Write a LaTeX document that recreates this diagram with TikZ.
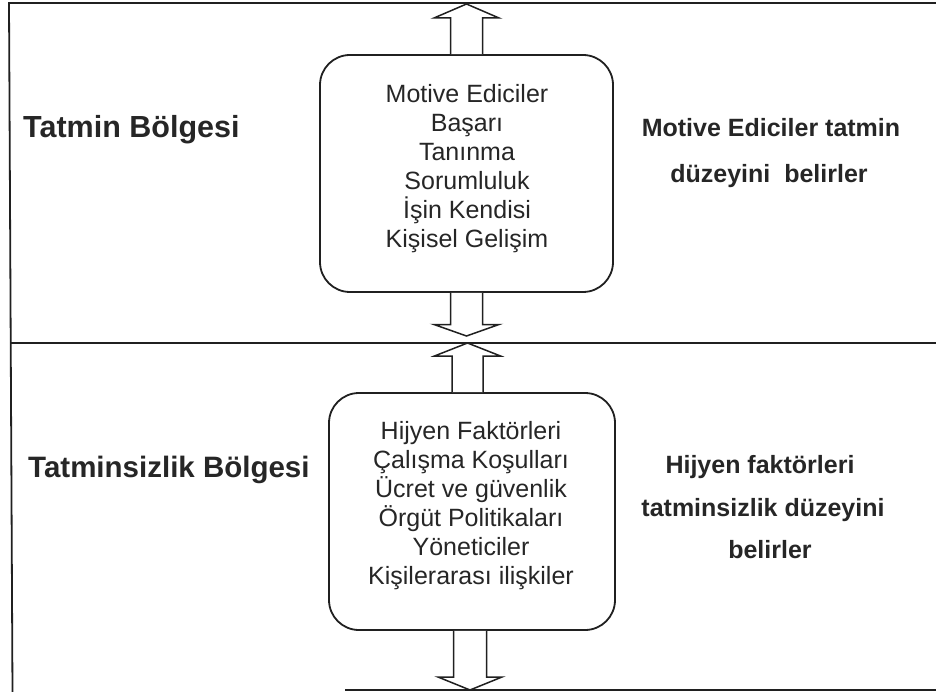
\documentclass[tikz,border=0pt]{standalone}
\usepackage{fontspec}
\setmainfont{Liberation Sans}
\usetikzlibrary{calc}
\definecolor{ink}{HTML}{202020}
\definecolor{txt}{HTML}{262626}

% vertical block arrows: #1 base, #2 tip, #3 shaft half width, #4 head half width, #5 head length
\newcommand{\blockup}[5]{%
  \draw[blockarrow] let \p1=(#1), \p2=(#2) in
    (\x1-#3pt,\y1) -- (\x1-#3pt,\y2-#5pt) -- (\x1-#4pt,\y2-#5pt) -- (\x1,\y2)
    -- (\x1+#4pt,\y2-#5pt) -- (\x1+#3pt,\y2-#5pt) -- (\x1+#3pt,\y1);}
\newcommand{\blockdown}[5]{%
  \draw[blockarrow] let \p1=(#1), \p2=(#2) in
    (\x1-#3pt,\y1) -- (\x1-#3pt,\y2+#5pt) -- (\x1-#4pt,\y2+#5pt) -- (\x1,\y2)
    -- (\x1+#4pt,\y2+#5pt) -- (\x1+#3pt,\y2+#5pt) -- (\x1+#3pt,\y1);}

\begin{document}
\begin{tikzpicture}[x=1pt,y=-1pt,
  frame/.style={draw=ink,line width=1.8pt},
  factorbox/.style={draw=ink,line width=1.8pt,rounded corners=30pt,
    minimum height=237pt,inner sep=0pt},
  boxtext/.style={text=txt,font=\fontsize{25}{29}\selectfont,align=center,
    inner sep=0pt,anchor=north},
  zonelabel/.style={text=txt,font=\fontsize{29.5}{34}\selectfont\bfseries,
    anchor=base west,inner sep=0pt},
  remark/.style={text=txt,font=\fontsize{25}{30}\selectfont\bfseries,
    anchor=base,inner sep=0pt},
  blockarrow/.style={draw=ink,line width=1.5pt,fill=white,line join=miter}
]
\useasboundingbox (0,0) rectangle (936,692);

% outer frame and the dividing line between the two zones
\draw[frame] (12.5,692) -- (9,3) -- (936,3);
\draw[frame] (10.5,343) -- (936,343);
\draw[frame] (345,690) -- (936,690);

% zone titles
\node[zonelabel,font=\fontsize{30.5}{35}\selectfont\bfseries] (zoneup) at (23,138) {Tatmin Bölgesi};
\node[zonelabel] (zonedown) at (28,477) {Tatminsizlik Bölgesi};

% factor boxes
\node[factorbox,minimum width=293pt] (topbox) at (466.5,173.5) {};
\node[boxtext] (toptext) at (467,84)
  {Motive Ediciler\\Başarı\\Tanınma\\Sorumluluk\\İşin Kendisi\\Kişisel Gelişim};

\node[factorbox,minimum width=286pt] (lowbox) at (472,511.5) {};
\node[boxtext] (lowtext) at (471,421)
  {Hijyen Faktörleri\\Çalışma Koşulları\\Ücret ve güvenlik\\Örgüt Politikaları\\Yöneticiler\\Kişilerarası ilişkiler};

% remarks on the right
\node[remark] (remA1) at (771,137) {Motive Ediciler tatmin};
\node[remark] (remA2) at (769,183) {düzeyini\ \ belirler};
\node[remark] (remB1) at (760,473) {Hijyen faktörleri};
\node[remark] (remB2) at (763,516) {tatminsizlik düzeyini};
\node[remark] (remB3) at (770,558) {belirler};

% arrow tips
\coordinate (tipA) at (466.5,4);
\coordinate (tipB) at (466.5,336);
\coordinate (baseC) at ($(lowbox.north)+(-4.5,0)$);
\coordinate (tipC) at (467.5,343);
\coordinate (baseD) at ($(lowbox.south)+(-2,0)$);
\coordinate (tipD) at (470,690);

% block arrows
\blockup{topbox.north}{tipA}{16}{32.5}{14}
\blockdown{topbox.south}{tipB}{16}{32.5}{11.5}
\blockup{baseC}{tipC}{15.5}{33}{13}
\blockdown{baseD}{tipD}{16.5}{32}{13}

\end{tikzpicture}
\end{document}
